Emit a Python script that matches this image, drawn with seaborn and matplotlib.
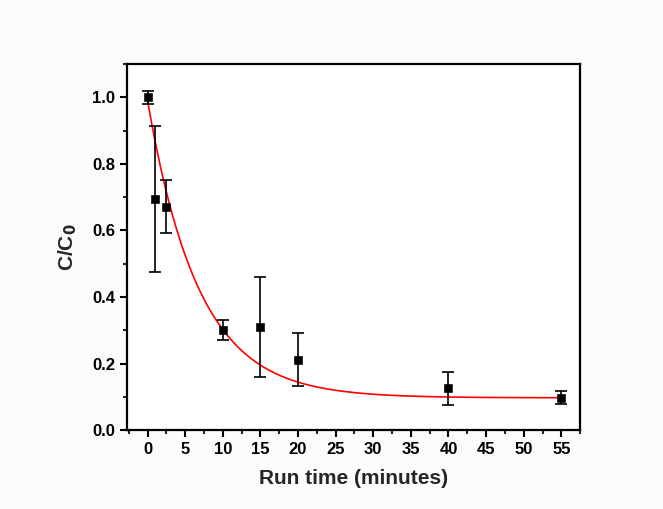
import numpy as np
import pandas as pd
import matplotlib
matplotlib.use('Agg')
import matplotlib.pyplot as plt
from matplotlib.ticker import MultipleLocator, FormatStrFormatter
import seaborn as sns

# --- Data ---
run_time = [0, 1, 2.5, 10, 15, 20, 40, 55]
c_ratio = [1.000, 0.695, 0.672, 0.300, 0.311, 0.212, 0.126, 0.097]
c_err = [0.020, 0.220, 0.080, 0.030, 0.150, 0.080, 0.050, 0.020]

# exponential decay fit: y = y0 + A * exp(-x / t1)
fit_y0 = 0.097
fit_A = 0.893
fit_t1 = 6.8

df = pd.DataFrame({'time': run_time, 'ratio': c_ratio, 'err': c_err})
fit_x = np.linspace(0, 55, 300)
fit_df = pd.DataFrame({'time': fit_x, 'ratio': fit_y0 + fit_A * np.exp(-fit_x / fit_t1)})

sns.set_style('white')
plt.rcParams['font.family'] = ['Liberation Sans', 'DejaVu Sans']
plt.rcParams['font.weight'] = 'bold'
plt.rcParams['mathtext.default'] = 'bf'

fig = plt.figure(figsize=(6.63, 5.09), dpi=100)
fig.patch.set_facecolor('#fbfbfb')
ax = fig.add_axes([0.192, 0.155, 0.683, 0.719])
ax.set_facecolor('white')

# fitted curve
sns.lineplot(x='time', y='ratio', data=fit_df, color='#ff0000', linewidth=1.2, ax=ax)
# error bars + measured points
ax.errorbar(df['time'], df['ratio'], yerr=df['err'], fmt='none', ecolor='black',
            elinewidth=1.2, capsize=4, capthick=1.2, zorder=3)
sns.scatterplot(x='time', y='ratio', data=df, marker='s', s=30, color='black',
                edgecolor='black', zorder=4, ax=ax)

ax.set_xlim(-2.7, 57.5)
ax.set_ylim(0, 1.1)
ax.xaxis.set_major_locator(MultipleLocator(5))
ax.xaxis.set_minor_locator(MultipleLocator(2.5))
ax.yaxis.set_major_locator(MultipleLocator(0.2))
ax.yaxis.set_minor_locator(MultipleLocator(0.1))
ax.yaxis.set_major_formatter(FormatStrFormatter('%.1f'))

for side in ['left', 'right', 'top', 'bottom']:
    ax.spines[side].set_visible(True)
    ax.spines[side].set_color('black')
    ax.spines[side].set_linewidth(1.6)

ax.tick_params(axis='both', which='major', direction='out', length=5, width=1.5,
               labelsize=12, colors='black', bottom=True, left=True, top=False, right=False)
ax.tick_params(axis='both', which='minor', direction='out', length=3, width=1.5,
               bottom=True, left=True, top=False, right=False)

ax.set_xlabel('Run time (minutes)', fontsize=15, fontweight='bold', labelpad=9)
ax.set_ylabel('C/C$_\\mathbf{0}$', fontsize=15, fontweight='bold', labelpad=10)

plt.savefig('out.png', dpi=100, facecolor=fig.get_facecolor())
plt.close()
